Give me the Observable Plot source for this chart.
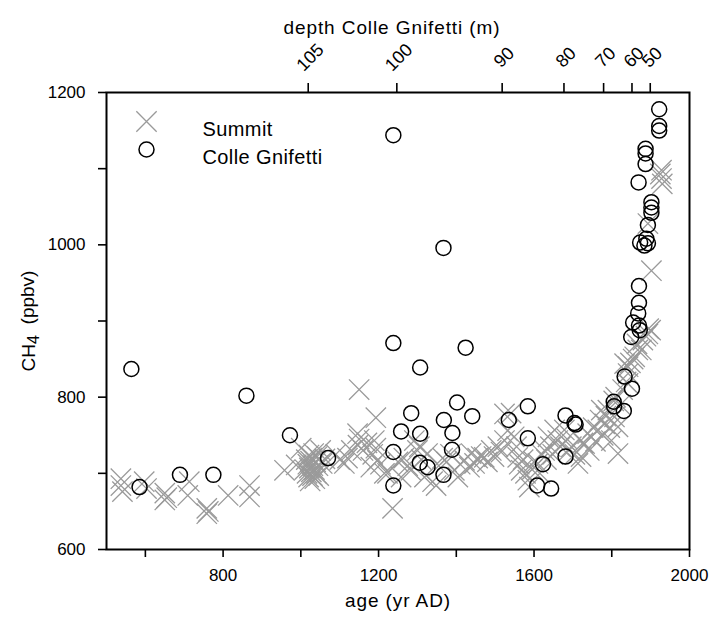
<!DOCTYPE html>
<html>
<head>
<meta charset="utf-8">
<script src="https://cdn.jsdelivr.net/npm/d3@7"></script>
<script src="https://cdn.jsdelivr.net/npm/@observablehq/plot@0.6"></script>
<style>
  html, body { margin: 0; padding: 0; background: #fff; }
  #chart { width: 709px; height: 619px; }
  .title text { letter-spacing: 0.9px; }
  .legend text { letter-spacing: 0.4px; }
</style>
</head>
<body>
<div id="chart"></div>
<script>
// ---- Data ----
// Summit (Greenland) CH4: age yr AD and ppbv
const summitAge = [537,537,541,597,603,650,650,655,709,713,758,758,762,813,868,868,958,988,1001,
  1010,1014,1016,1018,1020,1021,1022,1024,1025,1027,1028,1030,1031,1033,1035,1036,1038,1040,1042,1044,1046,1051,1055,1062,
  1090,1100,1112,1120,1130,1146,1147,1150,1150,1160,1170,1180,1185,1189,1193,1193,1197,1205,1215,1223,1236,1250,1258,1265,1275,1283,1292,1300,1305,1310,1318,1326,1339,1348,1355,1365,1375,1385,1395,1404,1410,1421,1434,1438,1447,1455,1464,1472,1480,1490,1497,1507,1515,1524,1524,1532,1541,1549,1555,1558,1562,1567,1572,1578,1584,1588,1595,1600,1610,1615,1620,1627,1632,1636,1642,1648,1653,1661,1668,1678,1685,1690,1696,1705,1713,1721,1726,1730,1738,1742,1747,1752,1758,1764,1770,1773,1778,1782,1785,1790,1795,1799,1805,1807,1810,1816,1816,1822,1828,1833,1837,1842,1842,1842,1848,1855,1859,1865,1867,1876,1880,1888,1893,1895,1900,1893,1902,1928,1928,1930,1925];
const summitCH4 = [693,684,676,689,680,674,665,668,671,689,654,647,650,671,684,669,704,711,733,
  705,718,700,712,695,724,707,690,716,702,720,697,710,726,705,693,715,700,722,710,697,730,713,719,
  725,718,713,720,730,752,737,810,745,730,740,708,725,743,773,733,717,712,700,700,654,715,695,720,710,704,743,730,735,718,695,726,689,684,710,720,715,725,704,695,712,717,708,726,713,720,722,721,715,730,722,735,728,743,778,756,779,748,735,721,712,704,718,700,691,682,705,715,713,700,725,730,718,748,735,725,757,743,735,757,745,730,735,725,713,722,740,739,752,730,748,760,742,757,770,783,750,765,775,783,760,743,795,774,800,726,761,790,810,844,820,831,818,840,845,850,853,870,862,862,875,880,883,890,888,1028,966,1098,1087,1080,1093];

// Colle Gnifetti (Alps) CH4: age yr AD and ppbv
const cgAge = [564,585,689,775,860,972,1070,
  1238,1238,1238,1238,1258,1284,1307,1307,1306,1326,1367,1367,1368,1389,1390,1402,1424,1441,
  1535,1584,1584,1608,1623,1644,1681,1681,1704,1707,
  1805,1806,1831,1833,1852,1850,1855,1870,1872,1868,1870,1870,
  1869,1873,1884,1889,1893,1893,1902,1902,1902,1887,1887,1887,1922,1922,1922];
const cgCH4 = [837,682,698,698,802,750,720,
  1144,871,728,684,755,779,839,752,714,708,996,698,770,731,753,793,865,775,
  770,788,746,684,712,680,776,722,766,764,
  794,788,782,827,811,879,898,894,888,910,924,946,
  1082,1003,999,1008,1002,1026,1042,1049,1056,1106,1120,1126,1150,1156,1178];

// Top axis: Colle Gnifetti depth (m) and the age each depth corresponds to
const depthLabels = ["105","100","90","80","70","60","50"];
const depthAges   = [1019,1247,1518,1677,1779,1852,1899];

// Axis ticks
const xTicks = [600,800,1000,1200,1400,1600,1800,2000];
const xLabelled = [800,1200,1600,2000];
const yTicks = [600,700,800,900,1000,1100,1200];
const yLabelled = [600,800,1000,1200];

const seriesNames = ["Summit","Colle Gnifetti"];
const titles = {x: "age (yr AD)", top: "depth Colle Gnifetti (m)"};

const summit = summitAge.map((a,i)=>({age:a, ch4:summitCH4[i]}));
const cg = cgAge.map((a,i)=>({age:a, ch4:cgCH4[i]}));

const crossGray = "#9a9a9a";
const FS = 17;   // tick labels
const TS = 19;   // titles
const LS = 20;   // legend

const chart = Plot.plot({
  width: 709,
  height: 619,
  marginLeft: 106,
  marginRight: 20,
  marginTop: 92,
  marginBottom: 70,
  style: {fontFamily: "'Liberation Sans', Arial, Helvetica, sans-serif", fontSize: FS + "px", color: "black", background: "white"},
  x: {domain: [500, 2000]},
  y: {domain: [600, 1200]},
  marks: [
    Plot.dot(summit, {x: "age", y: "ch4", symbol: "times", r: 9.3, stroke: crossGray, strokeWidth: 1.3}),
    Plot.dot(cg, {x: "age", y: "ch4", r: 7.5, stroke: "black", strokeWidth: 1.5, fill: "none"}),
    // bottom axis
    Plot.axisX({anchor: "bottom", ticks: xTicks, tickFormat: d => xLabelled.includes(d) ? String(d) : "",
      tickSize: 8, tickPadding: 11, strokeWidth: 1.6, label: null, fontSize: FS}),
    Plot.text([titles.x], {frameAnchor: "bottom", dy: 57, text: d => d, fontSize: TS, textAnchor: "middle", className: "title"}),
    // left axis
    Plot.axisY({anchor: "left", ticks: yTicks, tickFormat: d => yLabelled.includes(d) ? String(d) : "",
      tickSize: 8, tickPadding: 13, strokeWidth: 1.6, label: null, fontSize: FS}),
    Plot.text(["CH4"], {frameAnchor: "left", dx: -78, rotate: -90, text: d => d, fontSize: TS, textAnchor: "middle", className: "ylab"}),
    // top (depth) axis
    Plot.axisX({anchor: "top", ticks: depthAges, tickFormat: () => "", tickSize: 10, strokeWidth: 1.6, label: null}),
    Plot.text(depthAges, {x: d => d, frameAnchor: "top", dx: -3, dy: -40, rotate: -45, textAnchor: "middle",
      text: (d, i) => depthLabels[i], fontSize: FS + 1}),
    Plot.text([titles.top], {frameAnchor: "top", dx: -6, dy: -72, text: d => d, fontSize: TS, textAnchor: "middle", className: "title"}),
    // legend
    Plot.dot([seriesNames[0]], {frameAnchor: "top-left", dx: 40, dy: 29, symbol: "times", r: 9.3, stroke: crossGray, strokeWidth: 1.3}),
    Plot.dot([seriesNames[1]], {frameAnchor: "top-left", dx: 40, dy: 57, r: 7.5, stroke: "black", strokeWidth: 1.5, fill: "none"}),
    Plot.text([seriesNames[0]], {frameAnchor: "top-left", dx: 96, dy: 29, text: d => d, textAnchor: "start", fontSize: LS, className: "legend"}),
    Plot.text([seriesNames[1]], {frameAnchor: "top-left", dx: 96, dy: 57, text: d => d, textAnchor: "start", fontSize: LS, className: "legend"}),
    Plot.frame({stroke: "black", strokeWidth: 2})
  ]
});
// y title with a subscript 4
d3.select(chart).selectAll(".ylab text").each(function() {
  const t = d3.select(this);
  t.text(null);
  t.append("tspan").text("CH");
  t.append("tspan").attr("dy", "0.25em").attr("font-size", "0.85em").text("4");
  t.append("tspan").attr("dy", "-0.25em").text("\u00a0\u00a0(ppbv)");
});
document.getElementById("chart").appendChild(chart);
</script>
</body>
</html>
